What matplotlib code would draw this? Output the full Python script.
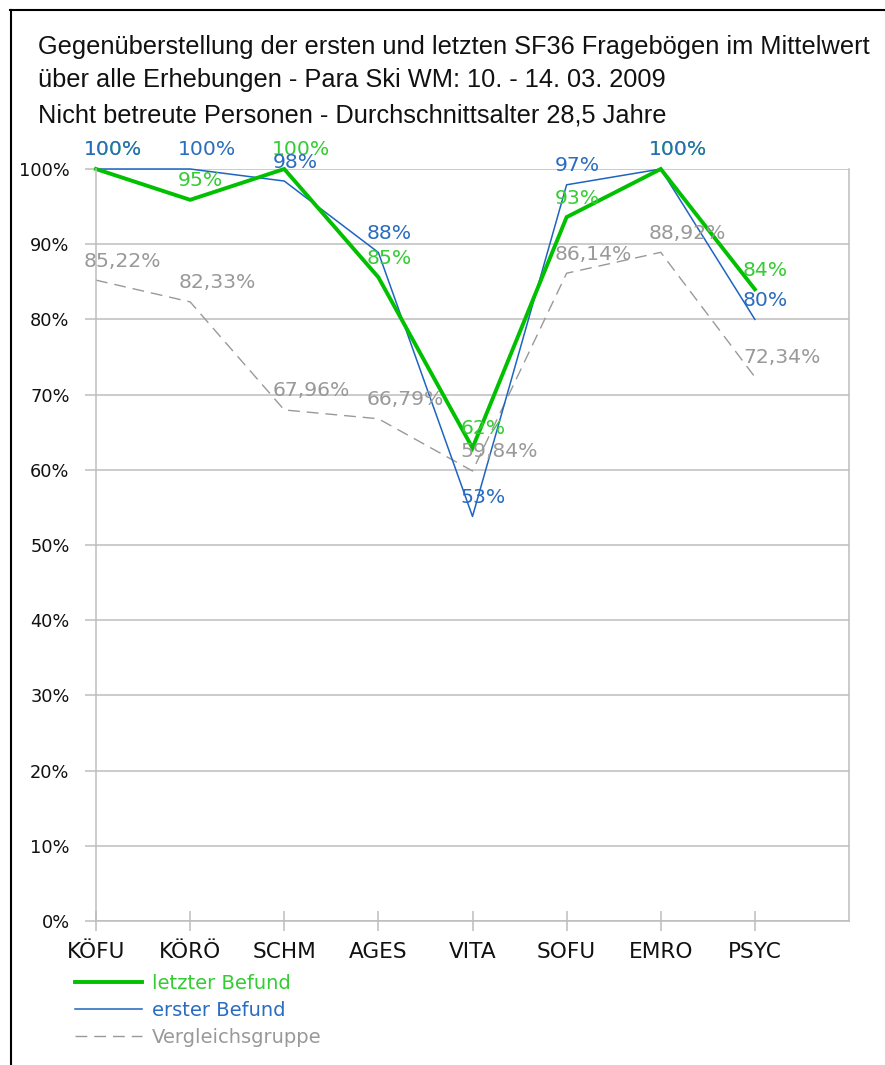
import matplotlib
matplotlib.use("Agg")
import matplotlib.pyplot as plt
from matplotlib.lines import Line2D

# data
categories = ["KÖFU", "KÖRÖ", "SCHM", "AGES", "VITA", "SOFU", "EMRO", "PSYC"]
letzter = [100, 95.9, 100, 85.6, 62.9, 93.6, 100, 84.0]
erster = [100, 100, 98.4, 88.9, 53.8, 97.9, 100, 80.0]
vergleich = [85.22, 82.33, 67.96, 66.79, 59.84, 86.14, 88.92, 72.34]
series_names = ["letzter Befund", "erster Befund", "Vergleichsgruppe"]
title_lines = [
    "Gegenüberstellung der ersten und letzten SF36 Fragebögen im Mittelwert",
    "über alle Erhebungen - Para Ski WM: 10. - 14. 03. 2009",
    "Nicht betreute Personen - Durchschnittsalter 28,5 Jahre",
]
yticks = list(range(0, 101, 10))

W, H = 885, 1065
green, green_txt = "#00c000", "#33cc33"
blue, blue_txt = "#1e64c0", "#2a6cbf"
grey = "#999999"
gridc = "#bdbdbd"

fig = plt.figure(figsize=(W / 100, H / 100), dpi=100)
fig.patch.set_facecolor("white")

def fx(px):
    return px / W

def fy(py):
    return 1 - py / H

ax = fig.add_axes([fx(96), fy(921), fx(849) - fx(96), fy(169) - fy(921)])
x = list(range(len(categories)))

l3, = ax.plot(x, vergleich, color=grey, lw=1.0, dashes=(8.5, 5), clip_on=False)
l2, = ax.plot(x, erster, color=blue, lw=1.1, clip_on=False)
l1, = ax.plot(x, letzter, color=green, lw=2.8, clip_on=False, solid_joinstyle="miter")

ax.set_xlim(0, 8)
ax.set_ylim(0, 100)
ax.set_yticks(yticks)
ax.set_yticklabels([f"{v}%" for v in yticks])
ax.set_xticks(x)
ax.set_xticklabels(categories)
ax.yaxis.grid(True, color=gridc, lw=1.1)
ax.set_axisbelow(True)
for s in ["left", "right", "bottom"]:
    ax.spines[s].set_color(gridc)
    ax.spines[s].set_linewidth(1.1)
ax.spines["top"].set_visible(False)
ax.tick_params(axis="y", direction="out", length=8, width=1.1, color=gridc,
               pad=11, labelsize=12.8)
ax.tick_params(axis="x", direction="inout", length=14.5, width=1.1, color=gridc,
               pad=8, labelsize=15.6)
for lab in ax.get_xticklabels() + ax.get_yticklabels():
    lab.set_fontfamily("DejaVu Sans")
    lab.set_color("#111111")

# data labels
def put_labels(vals, texts, color):
    for xi, v, t in zip(x, vals, texts):
        ax.annotate(t, (xi, v), xytext=(-8.6, 13.7), textcoords="offset points",
                    ha="left", va="center", color=color, fontsize=14.7,
                    family="DejaVu Sans", annotation_clip=False)

put_labels(vergleich, [f"{v:.2f}%".replace(".", ",") for v in vergleich], grey)
put_labels(letzter, [f"{int(v)}%" for v in letzter], green_txt)
put_labels(erster, [f"{int(v)}%" for v in erster], blue_txt)

# title
for line, base in zip(title_lines, [54, 87, 122]):
    fig.text(fx(38), fy(base), line, ha="left", va="baseline", fontsize=18.3,
             family="Liberation Sans", color="#111111")

# legend
leg = fig.legend([l1, l2, l3], series_names, loc="upper left",
                 bbox_to_anchor=(fx(75), fy(974)), frameon=False,
                 borderpad=0, borderaxespad=0, handlelength=3.45,
                 handletextpad=0.5, labelspacing=0.4,
                 prop={"family": "DejaVu Sans", "size": 14})
for t, c in zip(leg.get_texts(), [green_txt, blue_txt, grey]):
    t.set_color(c)

# outer frame (top and left only)
fig.add_artist(Line2D([fx(10), 1], [fy(10), fy(10)], color="black", lw=1.5))
fig.add_artist(Line2D([fx(11), fx(11)], [fy(10), 0], color="black", lw=1.5))

fig.savefig("out.png", dpi=100)
